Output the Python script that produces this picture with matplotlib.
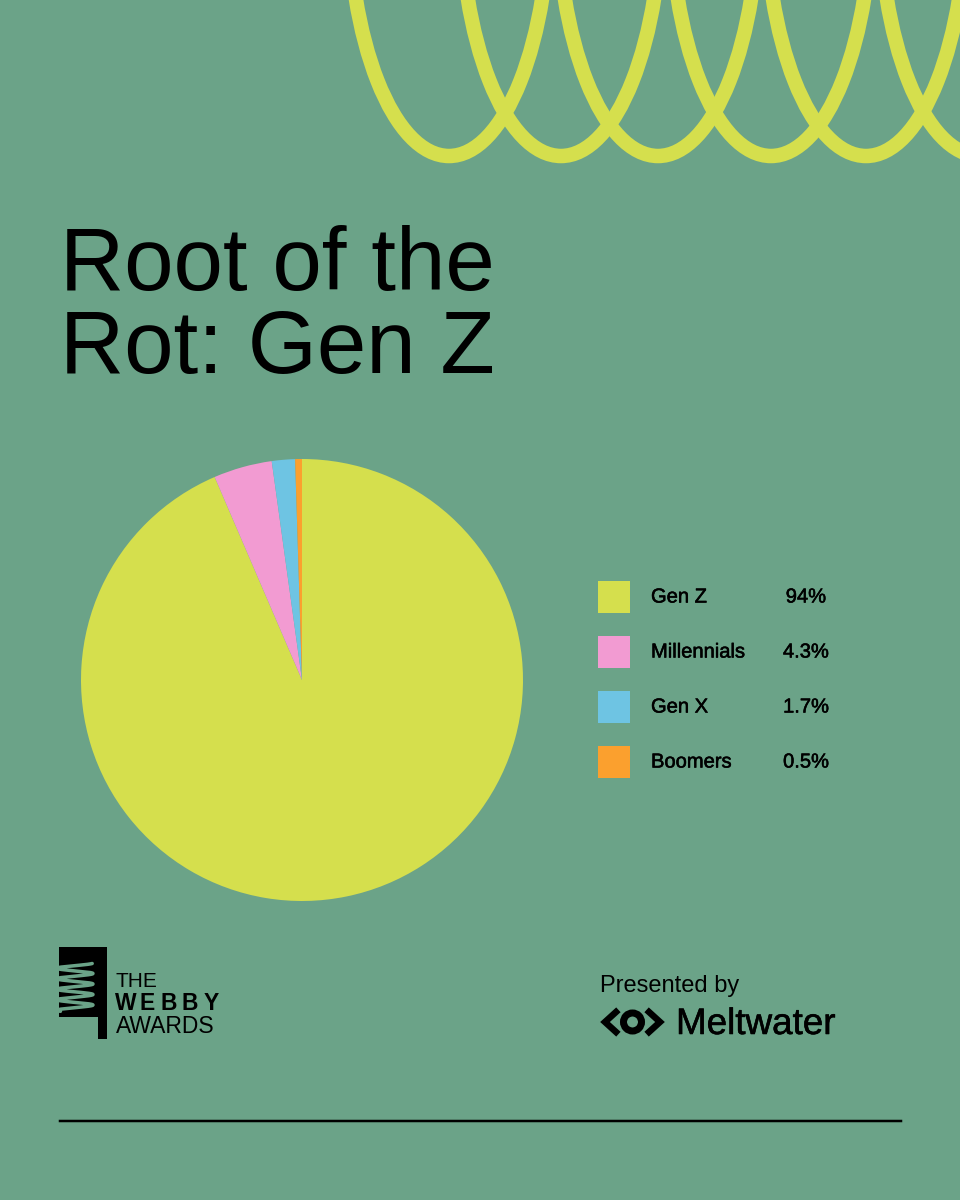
import numpy as np
import matplotlib
matplotlib.use('Agg')
import matplotlib.pyplot as plt
import matplotlib.patheffects as pe
from matplotlib.patches import Ellipse, Rectangle, Circle

# data
labels = ['Gen Z', 'Millennials', 'Gen X', 'Boomers']
values = [94, 4.3, 1.7, 0.5]
value_labels = ['94%', '4.3%', '1.7%', '0.5%']
colors = ['#D5DF4D', '#F29BD2', '#6EC4E3', '#FBA02E']

title_lines = ['Root of the', 'Rot: Gen Z']

# decoration: bottoms of the coil loops across the top
loop_x = [449, 561, 658, 771, 866, 980]

BG = '#6BA388'
LIME = '#D5DF4D'
PX = 72 / 100.0  # points per pixel at dpi 100
bold_fx = [pe.withStroke(linewidth=0.4, foreground='black')]

fig = plt.figure(figsize=(9.6, 12), dpi=100)
fig.patch.set_facecolor(BG)

# overlay in pixel coords (y down)
ov = fig.add_axes([0, 0, 1, 1])
ov.set_xlim(0, 960)
ov.set_ylim(1200, 0)
ov.axis('off')
ov.set_facecolor(BG)

# coil at the top
for cx in loop_x:
    ov.add_patch(Ellipse((cx, -100), 202, 512, fill=False,
                         edgecolor=LIME, linewidth=14.5 * PX))

# title
for i, line in enumerate(title_lines):
    ov.text(60, 290 + i * 83, line, fontsize=64, family='Liberation Sans',
            color='black', ha='left', va='baseline')

# pie
pie_ax = fig.add_axes([(302 - 221) / 960, (1200 - 680 - 221) / 1200,
                       442 / 960, 442 / 1200])
pie_ax.pie(values, colors=colors, startangle=90, counterclock=False,
           radius=1, wedgeprops=dict(linewidth=0))
pie_ax.set_xlim(-1, 1)
pie_ax.set_ylim(-1, 1)
pie_ax.set_aspect('equal')

# legend
for i, (lab, val, col) in enumerate(zip(labels, value_labels, colors)):
    y = 597 + i * 55
    ov.add_patch(Rectangle((598, y - 16), 32, 32, facecolor=col, edgecolor='none'))
    ov.text(651, y, lab, fontsize=14.5, family='Liberation Sans',
            color='black', ha='left', va='center', path_effects=bold_fx)
    ov.text(806, y, val, fontsize=14.5, family='Liberation Sans',
            color='black', ha='center', va='center', path_effects=bold_fx)

# webby logo
ov.add_patch(Rectangle((59, 947), 48, 92, facecolor='black', edgecolor='none'))
ov.add_patch(Rectangle((57, 1017), 41, 24, facecolor=BG, edgecolor='none'))
t = np.linspace(0.3, 4.6 * 2 * np.pi, 400)
ov.plot(75 + 18 * np.cos(t), 963 + 10.5 * t / (2 * np.pi), color=BG,
        linewidth=3.5 * PX, solid_capstyle='round')
ov.text(116, 987, 'THE', fontsize=15, family='Liberation Sans',
        color='black', ha='left', va='baseline')
for i, ch in enumerate('WEBBY'):
    ov.text(126 + i * 21.3, 1010, ch, fontsize=16.5, family='Liberation Sans',
            fontweight='bold', color='black', ha='center', va='baseline')
ov.text(116, 1033, 'AWARDS', fontsize=16.5, family='Liberation Sans',
        color='black', ha='left', va='baseline')

# presented by meltwater
ov.text(600, 992, 'Presented by', fontsize=17, family='Liberation Sans',
        color='black', ha='left', va='baseline')
lw = 6.5 * PX
ov.plot([616, 605, 616], [1012, 1022, 1032], color='black', linewidth=lw,
        solid_joinstyle='miter')
ov.add_patch(Circle((632.5, 1022), 9, fill=False, edgecolor='black', linewidth=7 * PX))
ov.plot([649, 660, 649], [1012, 1022, 1032], color='black', linewidth=lw,
        solid_joinstyle='miter')
ov.text(676, 1034, 'Meltwater', fontsize=26.5, family='Liberation Sans',
        color='black', ha='left', va='baseline', path_effects=bold_fx)

# bottom rule
ov.plot([60, 901], [1121, 1121], color='black', linewidth=2.5 * PX)

fig.savefig('out.png', dpi=100, facecolor=BG)
